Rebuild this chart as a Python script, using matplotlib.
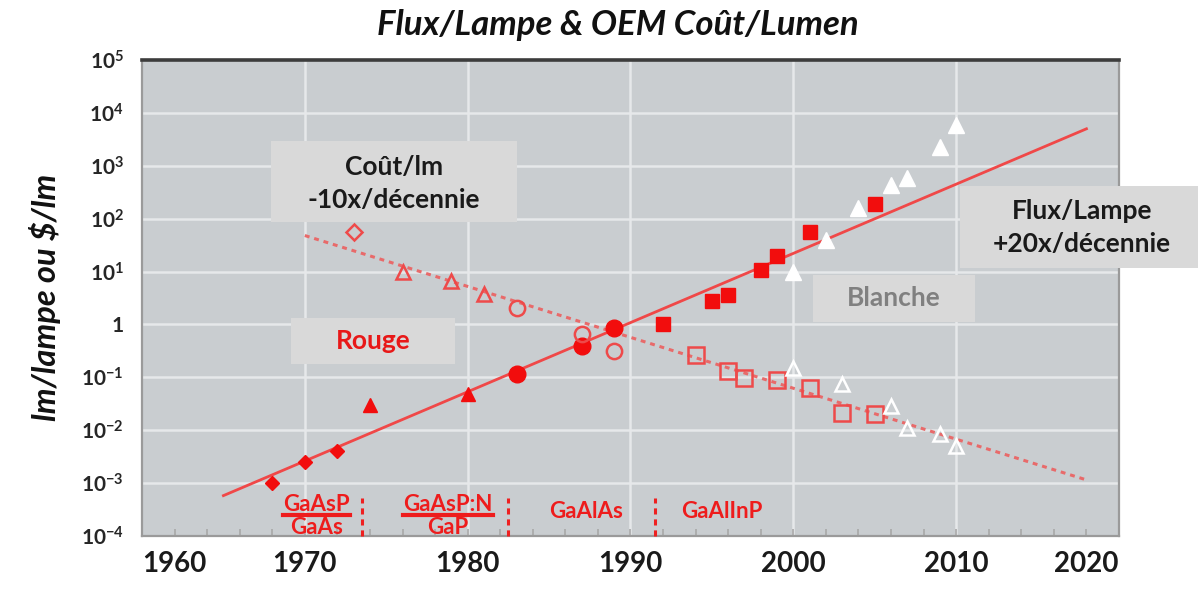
import matplotlib
matplotlib.use("Agg")
import matplotlib.pyplot as plt
from matplotlib.patches import Rectangle
from matplotlib.ticker import FixedLocator, MultipleLocator

plt.rcParams['font.family'] = ['Lato', 'DejaVu Sans']
plt.rcParams['mathtext.fontset'] = 'custom'
plt.rcParams['mathtext.rm'] = 'Lato:bold'
plt.rcParams['mathtext.bf'] = 'Lato:bold'
plt.rcParams['mathtext.it'] = 'Lato:bold:italic'

# ---------------- data ----------------
# Flux per lamp (lm/lamp), red LEDs (filled markers)
red_flux_diamond_years = [1968, 1970, 1972]
red_flux_diamond_vals = [1.0e-3, 2.5e-3, 4.0e-3]
red_flux_tri_years = [1974, 1980]
red_flux_tri_vals = [0.030, 0.049]
red_flux_circle_years = [1983, 1987, 1989]
red_flux_circle_vals = [0.115, 0.39, 0.84]
red_flux_square_years = [1992, 1995, 1996, 1998, 1999, 2001, 2005]
red_flux_square_vals = [1.0, 2.8, 3.6, 10.8, 20, 56, 192]
# Flux per lamp, white LEDs
white_flux_years = [2000, 2002, 2004, 2006, 2007, 2009, 2010]
white_flux_vals = [10, 39, 160, 427, 590, 2230, 5900]

# Cost per lumen ($/lm), red LEDs (open markers)
red_cost_diamond_years = [1973]
red_cost_diamond_vals = [55]
red_cost_tri_years = [1976, 1979, 1981]
red_cost_tri_vals = [10, 6.6, 3.8]
red_cost_circle_years = [1983, 1987, 1989]
red_cost_circle_vals = [2.05, 0.66, 0.31]
red_cost_square_years = [1994, 1996, 1997, 1999, 2001, 2003, 2005]
red_cost_square_vals = [0.27, 0.13, 0.098, 0.09, 0.062, 0.021, 0.020]
# Cost per lumen, white LEDs
white_cost_years = [2000, 2003, 2006, 2007, 2009, 2010]
white_cost_vals = [0.147, 0.075, 0.029, 0.011, 0.0085, 0.005]

# Trend lines (Haitz's law)
flux_trend_years = [1965, 2018]
flux_trend_vals = [5.8e-4, 5000]
cost_trend_years = [1970, 2018]
cost_trend_vals = [48, 1.15e-3]

# Material eras
era_boundaries = [1973.5, 1982.5, 1991.5]
era_names = [("GaAsP", "GaAs"), ("GaAsP:N", "GaP"), ("GaAlAs", None), ("GaAlInP", None)]
era_centers = [1970.7, 1978.8, 1987.3, 1995.6]

x_ticks = [1960, 1970, 1980, 1990, 2000, 2010, 2020]
y_exponents = [-4, -3, -2, -1, 0, 1, 2, 3, 4, 5]

# ---------------- figure ----------------
W, H = 1198, 615
fig = plt.figure(figsize=(W / 100, H / 100), dpi=100)
fig.patch.set_facecolor('white')

def fx(x):
    return x / W

def fy(y):
    return 1 - y / H

ax = fig.add_axes([fx(142), fy(536), fx(1119) - fx(142), fy(60) - fy(536)])
ax.set_facecolor('#c9cdd0')
ax.set_yscale('log')
ax.set_xlim(1960, 2020)
ax.set_ylim(1e-4, 1e5)

# grid
for yr in x_ticks[1:-1]:
    ax.axvline(yr, color='#e6e8ea', lw=1.8, zorder=1)
for e in y_exponents[1:-1]:
    ax.axhline(10.0 ** e, color='#e6e8ea', lw=1.8, zorder=1)

# spines
for s in ['left', 'right', 'bottom']:
    ax.spines[s].set_color('#9a9a9a')
    ax.spines[s].set_linewidth(1.6)
ax.spines['top'].set_color('#3c3c3c')
ax.spines['top'].set_linewidth(2.6)

# ticks
ax.xaxis.set_major_locator(FixedLocator(x_ticks))
ax.xaxis.set_minor_locator(MultipleLocator(2))
ax.set_xticklabels([str(t) for t in x_ticks])
ax.tick_params(axis='x', which='both', direction='in', length=5, width=1.2,
               color='#a8a8a8', labelsize=20, labelcolor='#1a1a1a', pad=11)
for lab in ax.get_xticklabels():
    lab.set_fontweight('bold')
xl = ax.get_xticklabels()
xl[0].set_horizontalalignment('left')
xl[-1].set_horizontalalignment('right')

ax.yaxis.set_major_locator(FixedLocator([10.0 ** e for e in y_exponents]))
ax.yaxis.set_minor_locator(FixedLocator([]))
ylabels = ['1' if e == 0 else r'$\mathbf{10^{%d}}$' % e for e in y_exponents]
ax.set_yticklabels(ylabels)
ax.tick_params(axis='y', which='both', length=0, labelsize=15, labelcolor='#262626', pad=13)
for lab in ax.get_yticklabels():
    lab.set_fontweight('bold')

# trend lines
ax.plot(flux_trend_years, flux_trend_vals, color='#f04848', lw=2.0, zorder=3)
ax.plot(cost_trend_years, cost_trend_vals, color='#e86a6a', lw=2.2,
        linestyle=(0, (1.6, 1.6)), zorder=3)

red = '#f20d0d'
ored = '#ee4a4a'
# flux markers
ax.plot(red_flux_diamond_years, red_flux_diamond_vals, 'D', ms=7.5, color=red, mec=red, zorder=5)
ax.plot(red_flux_tri_years, red_flux_tri_vals, '^', ms=10, color=red, mec=red, zorder=5)
ax.plot(red_flux_circle_years, red_flux_circle_vals, 'o', ms=12, color=red, mec=red, zorder=5)
ax.plot(red_flux_square_years, red_flux_square_vals, 's', ms=10, color=red, mec=red, zorder=5)
ax.plot(white_flux_years, white_flux_vals, '^', ms=11, color='white', mec='white', zorder=5)

# cost markers
kw = dict(mfc='none', mec=ored, mew=1.8, linestyle='none', zorder=5)
ax.plot(red_cost_diamond_years, red_cost_diamond_vals, marker='D', ms=8, **kw)
ax.plot(red_cost_tri_years, red_cost_tri_vals, marker='^', ms=10, **kw)
ax.plot(red_cost_circle_years, red_cost_circle_vals, marker='o', ms=11, **kw)
ax.plot(red_cost_square_years, red_cost_square_vals, marker='s', ms=11, **kw)
ax.plot(white_cost_years, white_cost_vals, marker='^', ms=10, mfc='none', mec='white',
        mew=1.8, linestyle='none', zorder=5)

# material eras
for b in era_boundaries:
    ax.plot([b, b], [1e-4, 5.2e-4], color='#ee2020', lw=2.2, linestyle=(0, (2, 1.6)),
            zorder=4, clip_on=False)
for (top, bot), xc in zip(era_names, era_centers):
    if bot is None:
        ax.text(xc, 10 ** -3.53, top, color='#ee1c1c', fontsize=16, fontweight='bold',
                ha='center', va='center', zorder=6)
    else:
        t = ax.text(xc, 10 ** -3.40, top, color='#ee1c1c', fontsize=16, fontweight='bold',
                    ha='center', va='center', zorder=6)
        ax.text(xc, 10 ** -3.84, bot, color='#ee1c1c', fontsize=16, fontweight='bold',
                ha='center', va='center', zorder=6)
        fig.canvas.draw()
        bb = t.get_window_extent().transformed(ax.transData.inverted())
        ax.plot([bb.x0, bb.x1], [10 ** -3.60, 10 ** -3.60], color='#ee1c1c', lw=3, zorder=6)

# annotation boxes (figure pixel layout)
def box(x0, y0, x1, y1, color='#d9d9d9'):
    fig.patches.append(Rectangle((fx(x0), fy(y1)), fx(x1) - fx(x0), fy(y0) - fy(y1),
                                 transform=fig.transFigure, facecolor=color,
                                 edgecolor='none', zorder=10))

TS = 19
box(271, 141, 517, 222)
fig.text(fx(394), fy(167), 'Coût/lm', fontsize=TS, fontweight='bold', color='#1a1a1a',
         ha='center', va='center', zorder=11)
fig.text(fx(394), fy(200), '-10x/décennie', fontsize=TS, fontweight='bold', color='#1a1a1a',
         ha='center', va='center', zorder=11)

box(291, 318, 455, 364)
fig.text(fx(373), fy(341), 'Rouge', fontsize=TS, fontweight='bold', color='#e81818',
         ha='center', va='center', zorder=11)

box(813, 275, 975, 322)
fig.text(fx(894), fy(298), 'Blanche', fontsize=TS, fontweight='bold', color='#808080',
         ha='center', va='center', zorder=11)

box(960, 186, 1198, 268)
fig.text(fx(1082), fy(211), 'Flux/Lampe', fontsize=TS, fontweight='bold', color='#1a1a1a',
         ha='center', va='center', zorder=11)
fig.text(fx(1082), fy(244), '+20x/décennie', fontsize=TS, fontweight='bold', color='#1a1a1a',
         ha='center', va='center', zorder=11)

# title and y label
fig.text(fx(618), fy(25), 'Flux/Lampe & OEM Coût/Lumen', fontsize=25, fontweight='bold',
         fontstyle='italic', color='#111111', ha='center', va='center')
fig.text(fx(45), fy(297), 'lm/lampe ou $/lm', fontsize=23.5, fontweight='bold',
         fontstyle='italic', color='#111111', ha='center', va='center', rotation=90)

fig.savefig('out.png', dpi=100, facecolor='white')
